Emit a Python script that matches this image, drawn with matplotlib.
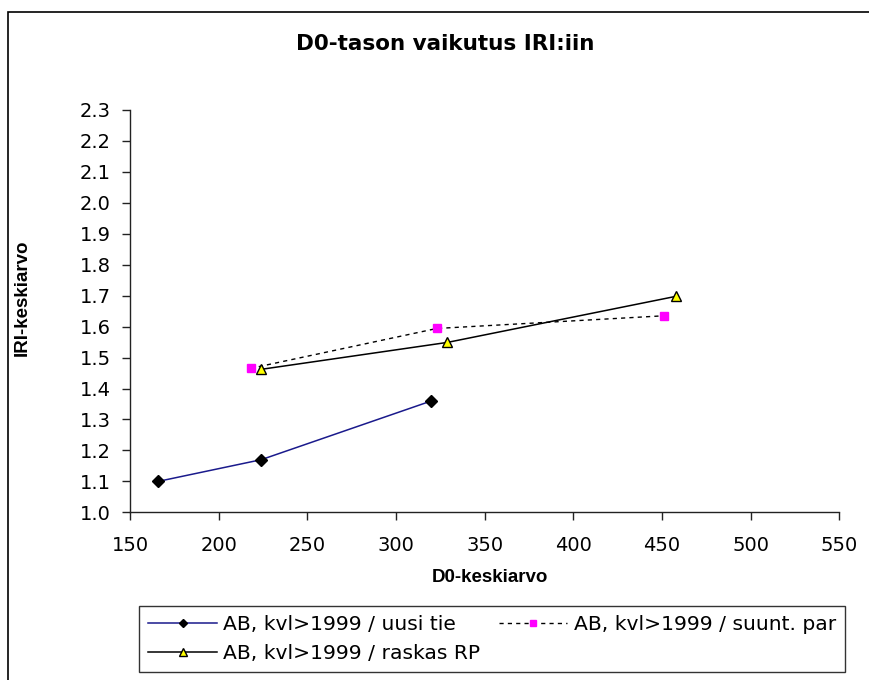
import matplotlib
matplotlib.use("Agg")
import matplotlib.pyplot as plt
from matplotlib.patches import Rectangle
from matplotlib.ticker import FormatStrFormatter, MultipleLocator

plt.rcParams['font.family'] = ['DejaVu Sans']

# Data
x_uusi = [166, 224, 320]
y_uusi = [1.10, 1.17, 1.36]
x_suunt = [218, 323, 451]
y_suunt = [1.465, 1.594, 1.635]
x_raskas = [224, 329, 458]
y_raskas = [1.462, 1.549, 1.698]
labels = ["AB, kvl>1999 / uusi tie", "AB, kvl>1999 / suunt. par", "AB, kvl>1999 / raskas RP"]
title = "D0-tason vaikutus IRI:iin"
xlabel = "D0-keskiarvo"
ylabel = "IRI-keskiarvo"

fig = plt.figure(figsize=(8.7, 6.8), dpi=100)
ax = fig.add_axes([130/870, 1-512.3/680, (839.3-130)/870, (512.3-110)/680])

l1, = ax.plot(x_uusi, y_uusi, color='#1a1a8c', lw=1.1, marker='D', ms=6,
              mfc='black', mec='black', label=labels[0])
l2, = ax.plot(x_suunt, y_suunt, color='black', lw=1.0, ls=(0, (3, 3)), marker='s', ms=5.5,
              mfc='#ff00ff', mec='#ff00ff', label=labels[1])
l3, = ax.plot(x_raskas, y_raskas, color='black', lw=1.1, marker='^', ms=7.5,
              mfc='#ffff00', mec='black', mew=1.0, label=labels[2])

ax.set_xlim(150, 550)
ax.set_ylim(1.0, 2.3)
ax.xaxis.set_major_locator(MultipleLocator(50))
ax.yaxis.set_major_locator(MultipleLocator(0.1))
ax.yaxis.set_major_formatter(FormatStrFormatter('%.1f'))
for s in ['top', 'right']:
    ax.spines[s].set_visible(False)
for s in ['left', 'bottom']:
    ax.spines[s].set_color('#222222')
    ax.spines[s].set_linewidth(1.0)
ax.tick_params(direction='out', length=6, width=1, color='#222222',
               labelsize=14, labelcolor='black')
ax.tick_params(axis='x', pad=11)
ax.tick_params(axis='y', pad=8)

fig.text(445/870, 1-44/680, title, ha='center', va='center', fontsize=15.5, fontweight='bold',
         family='DejaVu Sans')
fig.text(490/870, 1-578/680, xlabel, ha='center', va='center', fontsize=13.5,
         fontweight='bold', family='Liberation Sans')
fig.text(22/870, 1-298/680, ylabel, ha='center', va='center', rotation=90, fontsize=13.5,
         fontweight='bold', family='Liberation Sans')

leg = fig.legend([l1, l3, l2], [labels[0], labels[2], labels[1]], ncol=2,
                 loc='upper left', bbox_to_anchor=(139/870, 1-606/680),
                 frameon=True, fancybox=False, fontsize=14.6, handlelength=3.4,
                 borderpad=0.45, labelspacing=0.5, columnspacing=0.9, handletextpad=0.3,
                 borderaxespad=0, markerscale=0.75)
leg.get_frame().set_edgecolor('black')
leg.get_frame().set_linewidth(1.0)

fig.patches.append(Rectangle((8/870, -0.05), 1.2, 1-11.7/680+0.05, transform=fig.transFigure,
                             fill=False, edgecolor='black', lw=1.2, clip_on=False))

fig.savefig('out.png', dpi=100)
